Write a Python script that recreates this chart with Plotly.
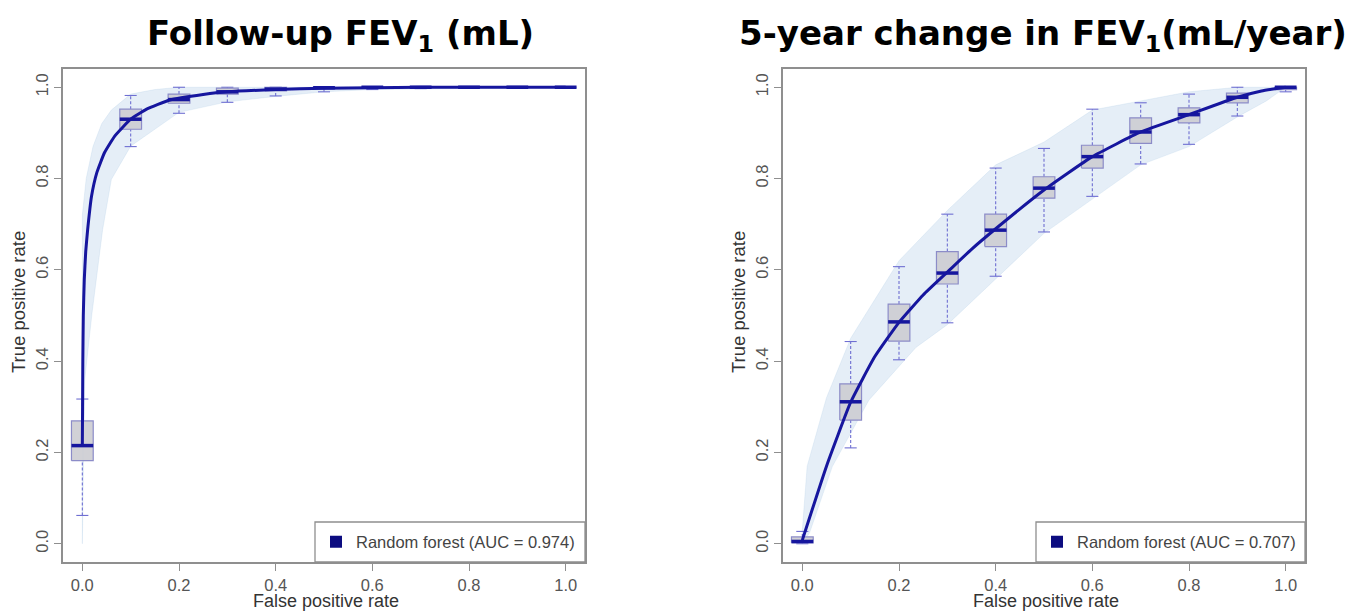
import plotly.graph_objects as go

W, H = 1348, 612

# ---------------- Follow-up FEV1 model ----------------
fev_curve_fpr = [0.0, 0.0005, 0.001, 0.002, 0.004, 0.007, 0.011, 0.019, 0.030, 0.046,
                 0.067, 0.1, 0.133, 0.181, 0.25, 0.3, 0.4, 0.5, 0.6, 0.7, 0.8, 0.9, 1.0]
fev_curve_tpr = [0.215, 0.30, 0.40, 0.50, 0.578, 0.64, 0.688, 0.761, 0.813, 0.857,
                 0.893, 0.930, 0.952, 0.972, 0.984, 0.990, 0.995, 0.998, 0.999, 1.0, 1.0, 1.0, 1.0]

# spread of the cross-validation curves (upper / lower envelopes)
fev_band_hi_fpr = [0.0, 0.0, 0.008, 0.022, 0.04, 0.06, 0.1, 0.15, 0.2, 1.0]
fev_band_hi_tpr = [0.0, 0.72, 0.80, 0.87, 0.92, 0.95, 0.985, 0.995, 1.0, 1.0]
fev_band_lo_fpr = [0.0, 0.005, 0.02, 0.042, 0.06, 0.1, 0.2, 0.3, 0.4, 0.5, 0.6, 1.0]
fev_band_lo_tpr = [0.0, 0.36, 0.505, 0.688, 0.798, 0.871, 0.945, 0.968, 0.98, 0.99, 0.995, 1.0]

box_fpr = [0.0, 0.1, 0.2, 0.3, 0.4, 0.5, 0.6, 0.7, 0.8, 0.9, 1.0]
fev_q1 = [0.182, 0.908, 0.965, 0.985, 0.992, 0.997, 0.998, 0.999, 1.0, 1.0, 1.0]
fev_med = [0.215, 0.930, 0.973, 0.990, 0.996, 0.999, 1.0, 1.0, 1.0, 1.0, 1.0]
fev_q3 = [0.269, 0.952, 0.985, 0.998, 1.0, 1.0, 1.0, 1.0, 1.0, 1.0, 1.0]
fev_lo = [0.062, 0.870, 0.943, 0.967, 0.981, 0.990, 0.995, 0.997, 1.0, 1.0, 1.0]
fev_hi = [0.317, 0.982, 1.0, 1.0, 1.0, 1.0, 1.0, 1.0, 1.0, 1.0, 1.0]

# ---------------- 5-year change model ----------------
chg_curve_fpr = [0.0, 0.05, 0.1, 0.15, 0.2, 0.25, 0.3, 0.35, 0.4, 0.5, 0.6, 0.7, 0.8, 0.9, 0.95, 1.0]
chg_curve_tpr = [0.008, 0.17, 0.31, 0.41, 0.485, 0.545, 0.595, 0.645, 0.69, 0.775, 0.848,
                 0.902, 0.940, 0.978, 0.992, 1.0]

chg_band_hi_fpr = [0.0, 0.0, 0.01, 0.05, 0.1, 0.2, 0.3, 0.4, 0.5, 0.6, 0.7, 0.8, 0.9, 1.0]
chg_band_hi_tpr = [0.0, 0.03, 0.17, 0.32, 0.45, 0.62, 0.73, 0.83, 0.88, 0.95, 0.97, 0.99, 1.0, 1.0]
chg_band_lo_fpr = [0.0, 0.015, 0.062, 0.138, 0.235, 0.3, 0.4, 0.5, 0.6, 0.7, 0.8, 0.9, 0.96, 1.0]
chg_band_lo_tpr = [0.0, 0.024, 0.169, 0.315, 0.43, 0.48, 0.58, 0.68, 0.755, 0.83, 0.87, 0.935, 0.97, 1.0]

chg_q1 = [0.002, 0.271, 0.444, 0.569, 0.651, 0.757, 0.823, 0.877, 0.922, 0.966, 0.995]
chg_med = [0.005, 0.311, 0.486, 0.593, 0.687, 0.779, 0.848, 0.902, 0.940, 0.978, 1.0]
chg_q3 = [0.015, 0.350, 0.525, 0.640, 0.722, 0.804, 0.873, 0.933, 0.955, 0.987, 1.0]
chg_lo = [0.0, 0.210, 0.403, 0.484, 0.586, 0.683, 0.761, 0.832, 0.875, 0.937, 0.990]
chg_hi = [0.027, 0.443, 0.607, 0.722, 0.823, 0.866, 0.952, 0.966, 0.985, 1.0, 1.0]

panel_titles = ["<b>Follow-up FEV<sub>1</sub> (mL)</b>", "<b>5-year change in FEV<sub>1</sub>(mL/year)</b>"]
legend_labels = ["Random forest (AUC = 0.974)", "Random forest (AUC = 0.707)"]
x_title = "False positive rate"
y_title = "True positive rate"
tick_vals = [0.0, 0.2, 0.4, 0.6, 0.8, 1.0]

NAVY = "#16169e"
BOX_HALF = 0.0225
CAP_HALF = 0.0125
AXIS_COL = "#8f8f8f"
FONT = "Liberation Sans, Arial, sans-serif"

fig = go.Figure()


def add_panel(xa, ya, band, curve, stats, legend_name, label):
    (hx, hy, lx, ly) = band
    cx, cy = curve
    q1, med, q3, lo, hi = stats
    # band of individual fold curves
    fig.add_trace(go.Scatter(
        x=hx + lx[::-1], y=hy + ly[::-1], mode="lines", fill="toself",
        fillcolor="rgba(150,188,222,0.25)", line=dict(width=0.6, color="rgba(150,188,222,0.3)"),
        hoverinfo="skip", showlegend=False, xaxis=xa, yaxis=ya))
    # dashed whiskers
    wx, wy = [], []
    for x, a, b, c, d in zip(box_fpr, lo, q1, q3, hi):
        wx += [x, x, None, x, x, None]
        wy += [a, b, None, c, d, None]
    fig.add_trace(go.Scatter(x=wx, y=wy, mode="lines",
                             line=dict(color="#6f6fd2", width=1.1, dash="3px,2px"),
                             hoverinfo="skip", showlegend=False, xaxis=xa, yaxis=ya))
    # whisker caps
    kx, ky = [], []
    for x, a, d in zip(box_fpr, lo, hi):
        kx += [x - CAP_HALF, x + CAP_HALF, None, x - CAP_HALF, x + CAP_HALF, None]
        ky += [a, a, None, d, d, None]
    fig.add_trace(go.Scatter(x=kx, y=ky, mode="lines",
                             line=dict(color="#6f6fd2", width=1.1),
                             hoverinfo="skip", showlegend=False, xaxis=xa, yaxis=ya))
    # boxes (interquartile range)
    bx, by = [], []
    for x, b, c in zip(box_fpr, q1, q3):
        bx += [x - BOX_HALF, x + BOX_HALF, x + BOX_HALF, x - BOX_HALF, x - BOX_HALF, None]
        by += [b, b, c, c, b, None]
    fig.add_trace(go.Scatter(x=bx, y=by, mode="lines", fill="toself",
                             fillcolor="rgba(205,205,210,0.92)",
                             line=dict(color="#8c8cc8", width=1.2),
                             hoverinfo="skip", showlegend=False, xaxis=xa, yaxis=ya))
    # mean ROC curve
    fig.add_trace(go.Scatter(x=cx, y=cy, mode="lines",
                             line=dict(color=NAVY, width=3, shape="spline", smoothing=0.4),
                             hoverinfo="skip", showlegend=False, xaxis=xa, yaxis=ya))
    # medians
    mx, my = [], []
    for x, m in zip(box_fpr, med):
        mx += [x - BOX_HALF, x + BOX_HALF, None]
        my += [m, m, None]
    fig.add_trace(go.Scatter(x=mx, y=my, mode="lines",
                             line=dict(color=NAVY, width=3.5),
                             hoverinfo="skip", showlegend=False, xaxis=xa, yaxis=ya))
    # legend entry
    fig.add_trace(go.Scatter(x=[None], y=[None], mode="markers", name=label,
                             marker=dict(symbol="square", size=12, color="#0c0c80"),
                             legend=legend_name, xaxis=xa, yaxis=ya, showlegend=True))


add_panel("x", "y",
          (fev_band_hi_fpr, fev_band_hi_tpr, fev_band_lo_fpr, fev_band_lo_tpr),
          (fev_curve_fpr, fev_curve_tpr),
          (fev_q1, fev_med, fev_q3, fev_lo, fev_hi), "legend", legend_labels[0])
add_panel("x2", "y2",
          (chg_band_hi_fpr, chg_band_hi_tpr, chg_band_lo_fpr, chg_band_lo_tpr),
          (chg_curve_fpr, chg_curve_tpr),
          (chg_q1, chg_med, chg_q3, chg_lo, chg_hi), "legend2", legend_labels[1])

# plot boxes in pixels: (left, right, top, bottom)
panels = [(63, 585, 69, 562), (783, 1305, 69, 562)]


def px(v):
    return v / W


def py(v):
    return 1 - v / H


axis_common = dict(range=[-0.04, 1.04], showline=True, mirror=True, linecolor=AXIS_COL,
                   linewidth=1.5, ticks="outside", ticklen=7, tickwidth=1.2, tickcolor=AXIS_COL,
                   showgrid=False, zeroline=False, tickvals=tick_vals, tickformat=".1f",
                   tickfont=dict(family=FONT, size=16.5, color="#555555"))

(l1, r1, t1, b1), (l2, r2, t2, b2) = panels
fig.update_layout(
    xaxis=dict(domain=[px(l1), px(r1)], anchor="y", **axis_common),
    yaxis=dict(domain=[py(b1), py(t1)], anchor="x", tickangle=-90, **axis_common),
    xaxis2=dict(domain=[px(l2), px(r2)], anchor="y2", **axis_common),
    yaxis2=dict(domain=[py(b2), py(t2)], anchor="x2", tickangle=-90, **axis_common),
)

shapes = []
annotations = []
legend_boxes = [(315, r1, 522, b1), (1036, r2, 522, b2)]
title_centers = [340, 1043]
for i, ((l, r, t, b), (ll, lr, lt, lb)) in enumerate(zip(panels, legend_boxes)):
    cx = (l + r) / 2
    annotations.append(dict(text=panel_titles[i], xref="paper", yref="paper",
                            x=px(title_centers[i]), y=py(35), xanchor="center", yanchor="middle",
                            showarrow=False,
                            font=dict(family="DejaVu Sans, sans-serif", size=34, color="black")))
    annotations.append(dict(text=x_title, xref="paper", yref="paper",
                            x=px(cx + 2), y=py(601), xanchor="center", yanchor="middle",
                            showarrow=False, font=dict(family=FONT, size=18, color="#333333")))
    annotations.append(dict(text=y_title, xref="paper", yref="paper", textangle=-90,
                            x=px(l - 45), y=py(302), xanchor="center", yanchor="middle",
                            showarrow=False, font=dict(family=FONT, size=18.5, color="#333333")))
    shapes.append(dict(type="rect", xref="paper", yref="paper",
                       x0=px(ll), x1=px(lr), y0=py(lb), y1=py(lt),
                       line=dict(color=AXIS_COL, width=1.3), fillcolor="white", layer="above"))

legend_common = dict(bgcolor="rgba(0,0,0,0)", borderwidth=0, xanchor="left", yanchor="middle",
                     font=dict(family=FONT, size=16.5, color="#444444"))
fig.update_layout(
    width=W, height=H, margin=dict(l=0, r=0, t=0, b=0),
    paper_bgcolor="white", plot_bgcolor="white",
    shapes=shapes, annotations=annotations,
    legend=dict(x=px(316), y=py(542), **legend_common),
    legend2=dict(x=px(1037), y=py(542), **legend_common),
)

fig.write_html("out.html")
